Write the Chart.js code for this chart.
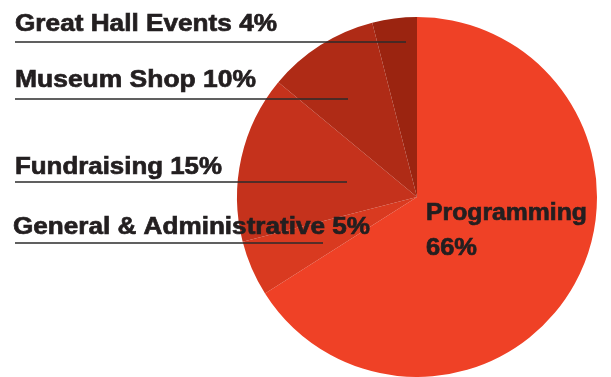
<!DOCTYPE html>
<html>
<head>
<meta charset="utf-8">
<script src="https://cdn.jsdelivr.net/npm/chart.js@4"></script>
<style>
  html, body { margin: 0; padding: 0; background: #fff; }
  #wrap { width: 611px; height: 377px; }
</style>
</head>
<body>
<div id="wrap"><canvas id="myChart"></canvas></div>
<script>
// budget categories, clockwise from 12 o'clock
var categories = ['Programming', 'General & Administrative', 'Fundraising', 'Museum Shop', 'Great Hall Events'];
var shares = [66, 5, 15, 10, 4];
var sliceColors = ['#EF4126', '#D93A20', '#C5321C', '#AF2B16', '#9B2410'];

// where the outside labels sit (x, baseline y, width, leader line y, leader end x)
var labelSpots = [
    null,
    [13, 234, 357, 243, 323],
    [15, 174, 207, 182, 347],
    [15, 87, 241, 99, 348],
    [15, 31, 262, 42, 406]
];

// draw text stretched to a given width
function fitText(ctx, txt, x, y, w) {
    var m = ctx.measureText(txt).width;
    ctx.save();
    ctx.translate(x, y);
    ctx.scale(w / m, 1);
    ctx.fillText(txt, 0, 0);
    ctx.strokeText(txt, 0, 0);
    ctx.restore();
}

var labelPlugin = {
    id: 'sliceLabels',
    afterDatasetsDraw: function (chart) {
        var ctx = chart.ctx;
        ctx.save();
        ctx.fillStyle = '#231F20';
        ctx.textBaseline = 'alphabetic';
        ctx.font = 'bold 24px "Liberation Sans", Arial, sans-serif';
        for (var i = 1; i < categories.length; i++) {
            var s = labelSpots[i];
            ctx.strokeStyle = '#231F20';
            ctx.lineWidth = 0.7;
            fitText(ctx, categories[i] + ' ' + shares[i] + '%', s[0], s[1], s[2]);
            ctx.strokeStyle = '#2b2b2b';
            ctx.lineWidth = 1.5;
            ctx.beginPath();
            ctx.moveTo(15, s[3]);
            ctx.lineTo(s[4], s[3]);
            ctx.stroke();
        }
        // big slice gets its label inside
        ctx.strokeStyle = '#231F20';
        ctx.lineWidth = 0.7;
        fitText(ctx, categories[0], 426, 220, 161);
        fitText(ctx, shares[0] + '%', 426, 255, 51);
        ctx.restore();
    }
};

var ctx1 = document.getElementById('myChart');
var myChart = new Chart(ctx1, {
    type: 'pie',
    data: {
        labels: categories,
        datasets: [{
            data: shares,
            backgroundColor: sliceColors,
            borderWidth: 0
        }]
    },
    options: {
        responsive: true,
        maintainAspectRatio: false,
        animation: false,
        layout: { padding: { left: 237, right: 14, top: 17, bottom: 0 } },
        plugins: {
            legend: { display: false },
            tooltip: { enabled: false }
        }
    },
    plugins: [labelPlugin]
});
</script>
</body>
</html>
